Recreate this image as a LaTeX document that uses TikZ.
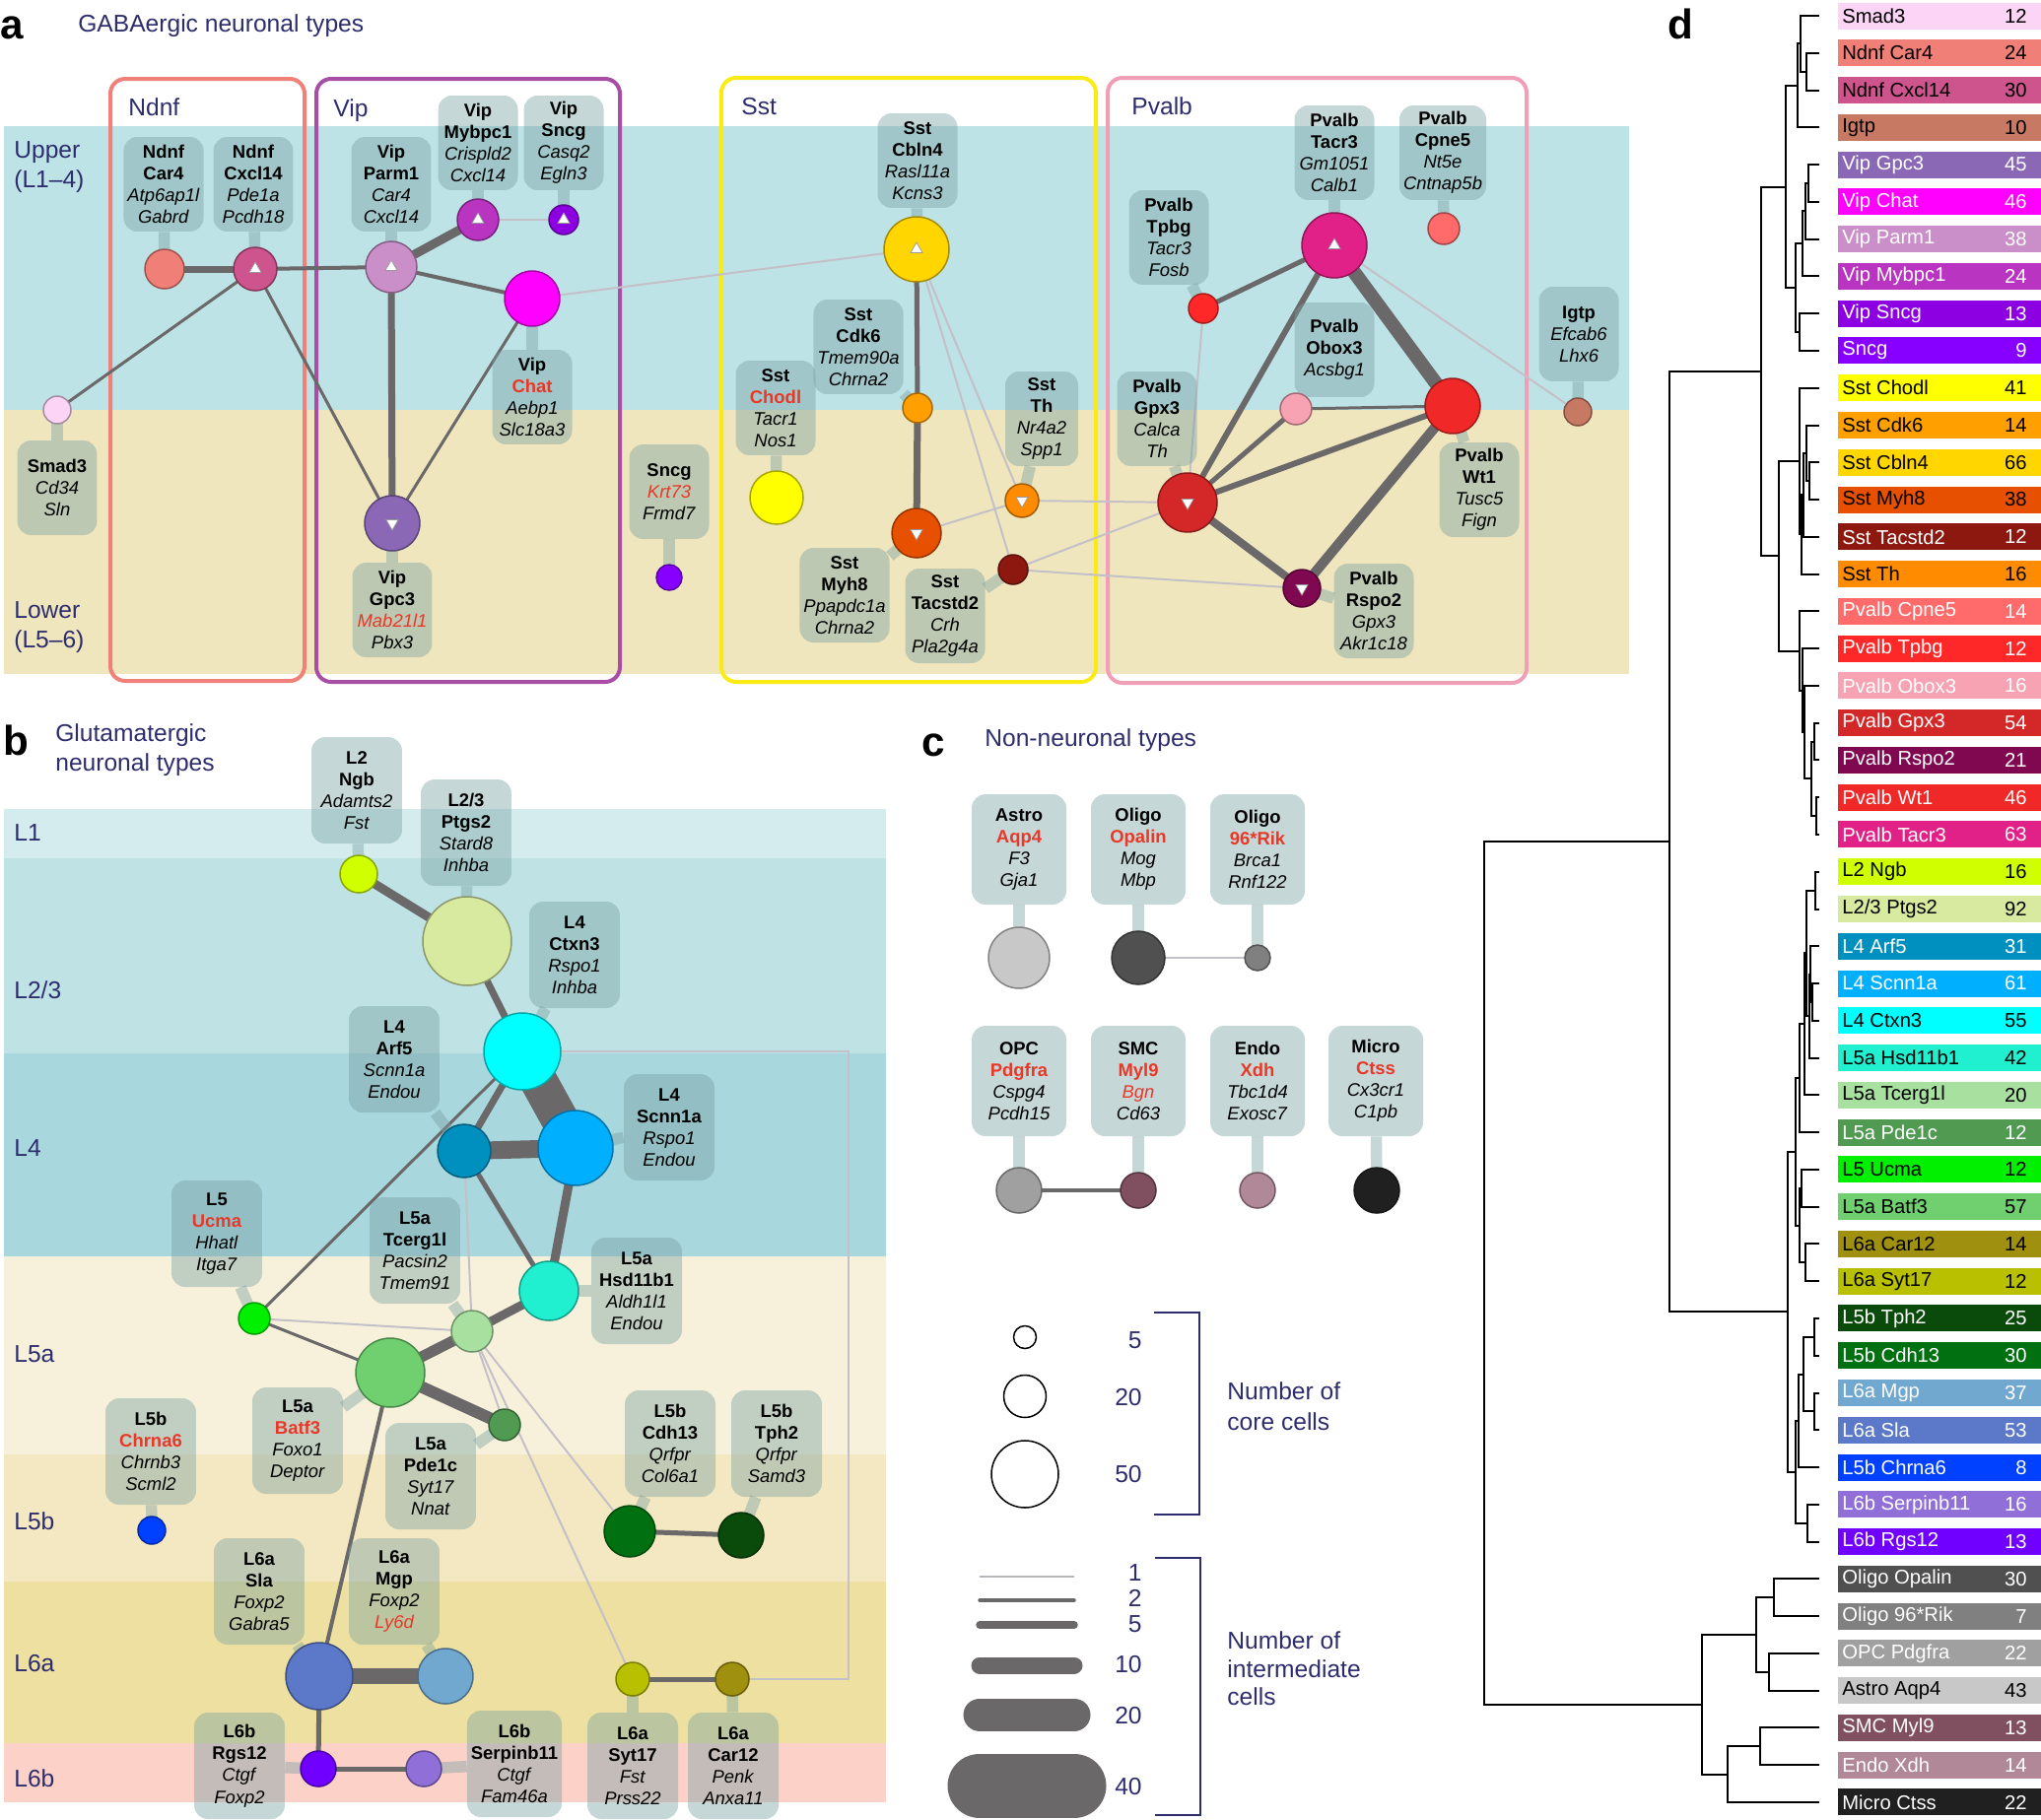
\documentclass[tikz,border=0pt]{standalone}
\usepackage{fontspec}
\setmainfont{Liberation Sans}
\usetikzlibrary{shapes.geometric}
\pgfdeclarelayer{bg}
\pgfdeclarelayer{edges}
\pgfdeclarelayer{stems}
\pgfsetlayers{bg,edges,stems,main}

% cluster colours
\definecolor{Smad3}{RGB}{251,212,246}
\definecolor{NdnfCar4}{RGB}{240,127,120}
\definecolor{NdnfCxcl14}{RGB}{205,84,140}
\definecolor{Igtp}{RGB}{200,121,100}
\definecolor{VipGpc3}{RGB}{139,104,181}
\definecolor{VipChat}{RGB}{255,0,255}
\definecolor{VipParm1}{RGB}{202,143,200}
\definecolor{VipMybpc1}{RGB}{185,52,192}
\definecolor{VipSncg}{RGB}{140,0,225}
\definecolor{Sncg}{RGB}{135,0,255}
\definecolor{SstChodl}{RGB}{255,255,0}
\definecolor{SstCdk6}{RGB}{255,160,0}
\definecolor{SstCbln4}{RGB}{255,214,0}
\definecolor{SstMyh8}{RGB}{230,80,0}
\definecolor{SstTacstd2}{RGB}{140,24,16}
\definecolor{SstTh}{RGB}{255,140,0}
\definecolor{PvalbCpne5}{RGB}{255,106,106}
\definecolor{PvalbTpbg}{RGB}{255,40,40}
\definecolor{PvalbObox3}{RGB}{247,163,180}
\definecolor{PvalbGpx3}{RGB}{212,40,40}
\definecolor{PvalbRspo2}{RGB}{128,8,80}
\definecolor{PvalbWt1}{RGB}{240,40,40}
\definecolor{PvalbTacr3}{RGB}{225,32,136}
\definecolor{L2Ngb}{RGB}{208,255,0}
\definecolor{L23Ptgs2}{RGB}{216,234,160}
\definecolor{L4Arf5}{RGB}{0,144,192}
\definecolor{L4Scnn1a}{RGB}{0,176,255}
\definecolor{L4Ctxn3}{RGB}{0,255,255}
\definecolor{L5aHsd11b1}{RGB}{32,240,208}
\definecolor{L5aTcerg1l}{RGB}{168,224,160}
\definecolor{L5aPde1c}{RGB}{80,154,82}
\definecolor{L5Ucma}{RGB}{0,240,0}
\definecolor{L5aBatf3}{RGB}{112,208,112}
\definecolor{L6aCar12}{RGB}{160,144,16}
\definecolor{L6aSyt17}{RGB}{184,192,0}
\definecolor{L5bTph2}{RGB}{10,74,10}
\definecolor{L5bCdh13}{RGB}{0,112,16}
\definecolor{L6aMgp}{RGB}{112,168,208}
\definecolor{L6aSla}{RGB}{92,120,200}
\definecolor{L5bChrna6}{RGB}{0,64,255}
\definecolor{L6bSerpinb11}{RGB}{144,112,216}
\definecolor{L6bRgs12}{RGB}{112,0,255}
\definecolor{OligoOpalin}{RGB}{80,80,80}
\definecolor{Oligo96Rik}{RGB}{128,128,128}
\definecolor{OPCPdgfra}{RGB}{160,160,160}
\definecolor{AstroAqp4}{RGB}{200,200,200}
\definecolor{SMCMyl9}{RGB}{128,80,96}
\definecolor{EndoXdh}{RGB}{176,136,152}
\definecolor{MicroCtss}{RGB}{32,32,32}
% figure colours
\definecolor{navy}{RGB}{45,45,110}
\definecolor{hl}{RGB}{232,56,40}
\definecolor{boxc}{RGB}{120,160,162}
\definecolor{edgec}{RGB}{107,104,105}
\definecolor{edgelt}{RGB}{196,192,200}
\definecolor{bandUp}{RGB}{190,227,230}
\definecolor{bandLow}{RGB}{240,230,190}
\definecolor{bL1}{RGB}{212,236,238}
\definecolor{bL23}{RGB}{191,226,229}
\definecolor{bL4}{RGB}{168,215,221}
\definecolor{bL5a}{RGB}{247,241,220}
\definecolor{bL5b}{RGB}{243,232,193}
\definecolor{bL6a}{RGB}{237,224,160}
\definecolor{bL6b}{RGB}{252,209,200}
\definecolor{frNdnf}{RGB}{240,128,122}
\definecolor{frVip}{RGB}{168,78,165}
\definecolor{frSst}{RGB}{250,235,20}
\definecolor{frPvalb}{RGB}{240,160,182}

\newcommand{\lbl}[4]{\textbf{#1}\\\textbf{#2}\\\textit{#3}\\\textit{#4}}
\newcommand{\lblc}[3]{\textbf{#1}\\\textit{#2}\\\textit{#3}}

\tikzset{
    % sizes are given in pixels of the source figure
    rad/.style={minimum size=#1*0.04cm},
    lw/.style={line width=#1*0.02cm},
    cell/.style={circle, inner sep=0pt, line width=0.03cm, fill=#1, draw=#1!65!black},
    lab/.style={rounded corners=0.28cm, fill=boxc, fill opacity=0.42, text opacity=1, align=center, inner xsep=0.08cm, font=\fontsize{10.5}{12.6}\selectfont},
    laba/.style={lab, minimum width=1.62cm, minimum height=1.92cm},
    labb/.style={lab, minimum width=1.84cm, minimum height=2.16cm},
    labc/.style={lab, minimum width=1.92cm, minimum height=2.24cm},
    stem/.style={draw=boxc, draw opacity=0.42, line width=0.23cm},
    link/.style={draw=edgec},
    faint/.style={draw=edgelt, line width=0.04cm},
    tri up/.style={regular polygon, regular polygon sides=3, minimum size=0.28cm, inner sep=0pt, fill=white, draw=gray!80, line width=0.4pt},
    tri down/.style={tri up, shape border rotate=180},
    grp/.style={rounded corners=0.3cm, line width=0.08cm},
    head/.style={text=navy, font=\fontsize{14}{17}\selectfont, anchor=west, align=left},
    panel/.style={font=\fontsize{24}{24}\selectfont\bfseries, anchor=base west, inner sep=0pt},
    dendro/.style={line width=0.04cm},
    bar/.style={font=\fontsize{11.5}{13}\selectfont, inner sep=0pt}
}

\begin{document}
\begin{tikzpicture}[x=0.02cm, y=-0.02cm]
\useasboundingbox (0,0) rectangle (2071,1846);

% backgrounds and group frames
\begin{pgfonlayer}{bg}
\fill[bandUp] (4,128) rectangle (1653,416);
\fill[bandLow] (4,416) rectangle (1653,684);
\draw[grp, frNdnf] (112,80) rectangle (309,691);
\draw[grp, frVip] (321,80) rectangle (629,692);
\draw[grp, frSst] (732,79) rectangle (1112,692);
\draw[grp, frPvalb] (1124,79) rectangle (1549,693);
\fill[bL1] (4,821) rectangle (899,871);
\fill[bL23] (4,871) rectangle (899,1069);
\fill[bL4] (4,1069) rectangle (899,1275);
\fill[bL5a] (4,1275) rectangle (899,1476);
\fill[bL5b] (4,1476) rectangle (899,1605);
\fill[bL6a] (4,1605) rectangle (899,1769);
\fill[bL6b] (4,1769) rectangle (899,1829);
\end{pgfonlayer}

% panel letters and headings
\node[panel] (pA) at (0,39) {a};
\node[panel] (pB) at (3,766) {b};
\node[panel] (pC) at (935,767) {c};
\node[panel] (pD) at (1692,39) {d};
\node[head, anchor=base west, inner sep=0pt] (tA) at (79,32) {GABAergic neuronal types};
\node[head, inner sep=0pt] (tB) at (56,761) {Glutamatergic\\neuronal types};
\node[head, anchor=base west, inner sep=0pt] (tC) at (999,757) {Non-neuronal types};
\node[head, inner sep=0pt] (up) at (14,170) {Upper\\(L1–4)};
\node[head, inner sep=0pt] (low) at (14,637) {Lower\\(L5–6)};
\node[head, anchor=base west, inner sep=0pt] (gNdnf) at (130,117) {Ndnf};
\node[head, anchor=base west, inner sep=0pt] (gVip) at (338,118) {Vip};
\node[head, anchor=base west, inner sep=0pt] (gSst) at (752,116) {Sst};
\node[head, anchor=base west, inner sep=0pt] (gPv) at (1148,116) {Pvalb};
\node[head, inner sep=0pt] (yL1) at (14,845) {L1};
\node[head, inner sep=0pt] (yL23) at (14,1005) {L2/3};
\node[head, inner sep=0pt] (yL4) at (14,1165) {L4};
\node[head, inner sep=0pt] (yL5a) at (14,1374) {L5a};
\node[head, inner sep=0pt] (yL5b) at (14,1544) {L5b};
\node[head, inner sep=0pt] (yL6a) at (14,1688) {L6a};
\node[head, inner sep=0pt] (yL6b) at (14,1805) {L6b};

% a: label boxes
\node[laba] (smad3L) at (58,495) {\lblc{Smad3}{Cd34}{Sln}};
\node[laba] (ndnfAL) at (166,187) {\lbl{Ndnf}{Car4}{Atp6ap1l}{Gabrd}};
\node[laba] (ndnfBL) at (257,187) {\lbl{Ndnf}{Cxcl14}{Pde1a}{Pcdh18}};
\node[laba] (vipParmL) at (397,187) {\lbl{Vip}{Parm1}{Car4}{Cxcl14}};
\node[laba] (vipMybL) at (485,145) {\lbl{Vip}{Mybpc1}{Crispld2}{Cxcl14}};
\node[laba] (vipSncgL) at (572,145) {\lbl{Vip}{Sncg}{Casq2}{Egln3}};
\node[laba] (vipChatL) at (540,403) {\lbl{Vip}{\color{hl}Chat}{Aebp1}{Slc18a3}};
\node[laba] (vipGpcL) at (398,619) {\lbl{Vip}{Gpc3}{\color{hl}Mab21l1}{Pbx3}};
\node[laba] (sncgL) at (679,499) {\lblc{Sncg}{\color{hl}Krt73}{Frmd7}};
\node[laba] (sstChodlL) at (787,414) {\lbl{Sst}{\color{hl}Chodl}{Tacr1}{Nos1}};
\node[laba] (sstCblnL) at (931,163) {\lbl{Sst}{Cbln4}{Rasl11a}{Kcns3}};
\node[laba] (sstCdkL) at (871,352) {\lbl{Sst}{Cdk6}{Tmem90a}{Chrna2}};
\node[laba, minimum width=1.48cm] (sstThL) at (1057,425) {\lbl{Sst}{Th}{Nr4a2}{Spp1}};
\node[laba] (sstMyhL) at (857,604) {\lbl{Sst}{Myh8}{Ppapdc1a}{Chrna2}};
\node[laba] (sstTacL) at (959,625) {\lbl{Sst}{Tacstd2}{Crh}{Pla2g4a}};
\node[laba] (pvTacrL) at (1354,155) {\lbl{Pvalb}{Tacr3}{Gm1051}{Calb1}};
\node[laba] (pvCpneL) at (1464,155) {\lbl{Pvalb}{Cpne5}{Nt5e}{Cntnap5b}};
\node[laba] (pvTpbgL) at (1186,241) {\lbl{Pvalb}{Tpbg}{Tacr3}{Fosb}};
\node[laba] (pvOboxL) at (1354,355) {\textbf{Pvalb}\\\textbf{Obox3}\\\textit{Acsbg1}};
\node[laba] (pvGpxL) at (1174,425) {\lbl{Pvalb}{Gpx3}{Calca}{Th}};
\node[laba] (pvWtL) at (1501,497) {\lbl{Pvalb}{Wt1}{Tusc5}{Fign}};
\node[laba] (pvRspoL) at (1394,620) {\lbl{Pvalb}{Rspo2}{Gpx3}{Akr1c18}};
\node[laba] (igtpL) at (1602,339) {\lblc{Igtp}{Efcab6}{Lhx6}};

% a: clusters
\node[cell=Smad3, rad=14] (smad3) at (58,416) {};
\node[cell=NdnfCar4, rad=20] (ndnfA) at (167,273) {};
\node[cell=NdnfCxcl14, rad=22] (ndnfB) at (259,273) {};
\node[cell=VipParm1, rad=26] (vipParm) at (397,271) {};
\node[cell=VipMybpc1, rad=21] (vipMyb) at (485,223) {};
\node[cell=VipSncg, rad=15] (vipSncg) at (572,223) {};
\node[cell=VipChat, rad=28] (vipChat) at (540,303) {};
\node[cell=VipGpc3, rad=28] (vipGpc) at (398,531) {};
\node[cell=Sncg, rad=13] (sncg) at (679,586) {};
\node[cell=SstChodl, rad=27] (sstChodl) at (788,505) {};
\node[cell=SstCbln4, rad=33] (sstCbln) at (930,253) {};
\node[cell=SstCdk6, rad=15] (sstCdk) at (931,414) {};
\node[cell=SstTh, rad=17] (sstTh) at (1037,508) {};
\node[cell=SstMyh8, rad=25] (sstMyh) at (930,541) {};
\node[cell=SstTacstd2, rad=15] (sstTac) at (1028,578) {};
\node[cell=PvalbTacr3, rad=33] (pvTacr) at (1354,249) {};
\node[cell=PvalbCpne5, rad=16] (pvCpne) at (1465,232) {};
\node[cell=PvalbTpbg, rad=15] (pvTpbg) at (1221,313) {};
\node[cell=PvalbObox3, rad=16] (pvObox) at (1315,415) {};
\node[cell=PvalbWt1, rad=28] (pvWt) at (1474,412) {};
\node[cell=PvalbGpx3, rad=30] (pvGpx) at (1205,510) {};
\node[cell=PvalbRspo2, rad=19] (pvRspo) at (1321,597) {};
\node[cell=Igtp, rad=14] (igtp) at (1601,418) {};
\foreach \n in {ndnfB,vipParm,vipMyb,vipSncg,sstCbln,pvTacr}
    \node[tri up] (\n-t) at (\n) {};
\foreach \n in {vipGpc,sstTh,sstMyh,pvGpx,pvRspo}
    \node[tri down] (\n-t) at (\n) {};

% b: label boxes
\node[labb] (ngbL) at (362,802) {\lbl{L2}{Ngb}{Adamts2}{Fst}};
\node[labb] (ptgsL) at (473,845) {\lbl{L2/3}{Ptgs2}{Stard8}{Inhba}};
\node[labb] (ctxnL) at (583,969) {\lbl{L4}{Ctxn3}{Rspo1}{Inhba}};
\node[labb] (arfL) at (400,1075) {\lbl{L4}{Arf5}{Scnn1a}{Endou}};
\node[labb] (scnnL) at (679,1144) {\lbl{L4}{Scnn1a}{Rspo1}{Endou}};
\node[labb] (ucmaL) at (220,1252) {\lbl{L5}{\color{hl}Ucma}{Hhatl}{Itga7}};
\node[labb] (tcergL) at (421,1269) {\lbl{L5a}{Tcerg1l}{Pacsin2}{Tmem91}};
\node[labb] (hsdL) at (646,1310) {\lbl{L5a}{Hsd11b1}{Aldh1l1}{Endou}};
\node[labb] (chrnaL) at (153,1473) {\lbl{L5b}{\color{hl}Chrna6}{Chrnb3}{Scml2}};
\node[labb] (batfL) at (302,1462) {\lbl{L5a}{\color{hl}Batf3}{Foxo1}{Deptor}};
\node[labb] (pdeL) at (437,1498) {\lbl{L5a}{Pde1c}{Syt17}{Nnat}};
\node[labb] (cdhL) at (680,1465) {\lbl{L5b}{Cdh13}{Qrfpr}{Col6a1}};
\node[labb] (tphL) at (788,1465) {\lbl{L5b}{Tph2}{Qrfpr}{Samd3}};
\node[labb] (slaL) at (263,1615) {\lbl{L6a}{Sla}{Foxp2}{Gabra5}};
\node[labb] (mgpL) at (400,1615) {\lbl{L6a}{Mgp}{Foxp2}{\color{hl}Ly6d}};
\node[labb] (rgsL) at (243,1792) {\lbl{L6b}{Rgs12}{Ctgf}{Foxp2}};
\node[labb] (serpL) at (522,1790) {\lbl{L6b}{Serpinb11}{Ctgf}{Fam46a}};
\node[labb] (sytL) at (642,1792) {\lbl{L6a}{Syt17}{Fst}{Prss22}};
\node[labb] (carL) at (744,1792) {\lbl{L6a}{Car12}{Penk}{Anxa11}};

% b: clusters
\node[cell=L2Ngb, rad=19] (ngb) at (364,887) {};
\node[cell=L23Ptgs2, rad=45] (ptgs) at (474,955) {};
\node[cell=L4Ctxn3, rad=39] (ctxn) at (530,1067) {};
\node[cell=L4Arf5, rad=27] (arf) at (471,1168) {};
\node[cell=L4Scnn1a, rad=38] (scnn) at (584,1165) {};
\node[cell=L5aHsd11b1, rad=30] (hsd) at (557,1310) {};
\node[cell=L5aTcerg1l, rad=21] (tcerg) at (479,1351) {};
\node[cell=L5Ucma, rad=16] (ucma) at (258,1338) {};
\node[cell=L5aBatf3, rad=35] (batf) at (396,1393) {};
\node[cell=L5aPde1c, rad=16] (pde) at (512,1446) {};
\node[cell=L5bChrna6, rad=14] (chrna) at (154,1553) {};
\node[cell=L5bCdh13, rad=26] (cdh) at (639,1554) {};
\node[cell=L5bTph2, rad=23] (tph) at (752,1558) {};
\node[cell=L6aSla, rad=34] (sla) at (324,1701) {};
\node[cell=L6aMgp, rad=28] (mgp) at (452,1701) {};
\node[cell=L6aSyt17, rad=17] (syt) at (642,1704) {};
\node[cell=L6aCar12, rad=17] (car) at (743,1704) {};
\node[cell=L6bRgs12, rad=18] (rgs) at (323,1795) {};
\node[cell=L6bSerpinb11, rad=18] (serp) at (430,1795) {};
\coordinate (turn) at (861,1704);

% c: label boxes and clusters
\node[labc] (astroL) at (1034,862) {\lbl{Astro}{\color{hl}Aqp4}{F3}{Gja1}};
\node[labc] (opalL) at (1155,862) {\lbl{Oligo}{\color{hl}Opalin}{Mog}{Mbp}};
\node[labc] (rikL) at (1276,862) {\lbl{Oligo}{\color{hl}96*Rik}{Brca1}{Rnf122}};
\node[labc] (opcL) at (1034,1097) {\lbl{OPC}{\color{hl}Pdgfra}{Cspg4}{Pcdh15}};
\node[labc] (smcL) at (1155,1097) {\lbl{SMC}{\color{hl}Myl9}{\color{hl}Bgn}{Cd63}};
\node[labc] (endoL) at (1276,1097) {\lbl{Endo}{\color{hl}Xdh}{Tbc1d4}{Exosc7}};
\node[labc] (microL) at (1396,1097) {\lbl{Micro}{\color{hl}Ctss}{Cx3cr1}{C1pb}};
\node[cell=AstroAqp4, rad=31] (astro) at (1034,972) {};
\node[cell=OligoOpalin, rad=27] (opal) at (1155,972) {};
\node[cell=Oligo96Rik, rad=13] (rik) at (1276,972) {};
\node[cell=OPCPdgfra, rad=23] (opc) at (1034,1208) {};
\node[cell=SMCMyl9, rad=18] (smc) at (1155,1208) {};
\node[cell=EndoXdh, rad=18] (endo) at (1276,1208) {};
\node[cell=MicroCtss, rad=23] (micro) at (1397,1208) {};

% connections
\begin{pgfonlayer}{edges}
\draw[link, lw=7] (ndnfA.center) -- (ndnfB.center);
\draw[link, lw=4] (ndnfB.center) -- (vipParm.center);
\draw[link, lw=3] (smad3.center) -- (ndnfB.center);
\draw[link, lw=3] (ndnfB.center) -- (vipGpc.center);
\draw[link, lw=9] (vipParm.center) -- (vipMyb.center);
\draw[link, lw=4] (vipParm.center) -- (vipChat.center);
\draw[link, lw=7] (vipParm.center) -- (vipGpc.center);
\draw[link, lw=3] (vipChat.center) -- (vipGpc.center);
\draw[faint] (vipMyb.center) -- (vipSncg.center);
\draw[faint] (vipChat.center) -- (sstCbln.center);
\draw[link, lw=5] (sstCbln.center) -- (sstCdk.center);
\draw[link, lw=7] (sstCdk.center) -- (sstMyh.center);
\draw[faint] (sstCbln.center) -- (sstTh.center);
\draw[faint] (sstCbln.center) -- (sstTac.center);
\draw[faint] (sstMyh.center) -- (sstTh.center);
\draw[faint] (sstTh.center) -- (pvGpx.center);
\draw[faint] (sstTac.center) -- (pvGpx.center);
\draw[faint] (sstTac.center) -- (pvRspo.center);
\draw[link, lw=5] (pvTacr.center) -- (pvTpbg.center);
\draw[link, lw=14] (pvTacr.center) -- (pvWt.center);
\draw[link, lw=6] (pvTacr.center) -- (pvGpx.center);
\draw[faint] (pvTacr.center) -- (igtp.center);
\draw[faint] (pvTpbg.center) -- (pvGpx.center);
\draw[link, lw=3] (pvObox.center) -- (pvWt.center);
\draw[link, lw=5] (pvObox.center) -- (pvGpx.center);
\draw[link, lw=6] (pvWt.center) -- (pvGpx.center);
\draw[link, lw=10] (pvWt.center) -- (pvRspo.center);
\draw[link, lw=8] (pvGpx.center) -- (pvRspo.center);
% b
\draw[link, lw=9] (ngb.center) -- (ptgs.center);
\draw[link, lw=7] (ptgs.center) -- (ctxn.center);
\draw[link, lw=38] (ctxn.center) -- (scnn.center);
\draw[link, lw=18] (arf.center) -- (scnn.center);
\draw[link, lw=7] (arf.center) -- (ctxn.center);
\draw[link, lw=3] (ctxn.center) -- (ucma.center);
\draw[link, lw=5] (arf.center) -- (hsd.center);
\draw[link, lw=9] (scnn.center) -- (hsd.center);
\draw[faint] (arf.center) -- (tcerg.center);
\draw[link, lw=9] (hsd.center) -- (tcerg.center);
\draw[link, lw=11] (tcerg.center) -- (batf.center);
\draw[link, lw=12] (batf.center) -- (pde.center);
\draw[link, lw=3] (batf.center) -- (ucma.center);
\draw[faint] (ucma.center) -- (tcerg.center);
\draw[faint] (tcerg.center) -- (pde.center);
\draw[faint] (tcerg.center) -- (cdh.center);
\draw[faint] (tcerg.center) -- (syt.center);
\draw[link, lw=4] (batf.center) -- (sla.center);
\draw[link, lw=16] (sla.center) -- (mgp.center);
\draw[link, lw=5] (sla.center) -- (rgs.center);
\draw[link, lw=5] (rgs.center) -- (serp.center);
\draw[link, lw=5] (cdh.center) -- (tph.center);
\draw[link, lw=5] (syt.center) -- (car.center);
\draw[faint] (ctxn.center) -| (turn) -- (car.center);
% c
\draw[faint] (opal.center) -- (rik.center);
\draw[link, lw=4] (opc.center) -- (smc.center);
\end{pgfonlayer}

% stems from label boxes to clusters
\begin{pgfonlayer}{stems}
\foreach \n in {smad3,ndnfA,ndnfB,vipParm,vipMyb,vipSncg,vipChat,vipGpc,sncg,
    sstChodl,sstCbln,sstCdk,sstTh,sstMyh,sstTac,pvTacr,pvCpne,pvTpbg,pvObox,
    pvGpx,pvWt,pvRspo,igtp,ngb,ptgs,ctxn,arf,scnn,ucma,tcerg,hsd,chrna,batf,
    pde,cdh,tph,sla,mgp,rgs,serp,syt,car,astro,opal,rik,opc,smc,endo,micro}
    \draw[stem] (\n L) -- (\n.center);
\end{pgfonlayer}

% legend
\node[circle, draw, line width=0.03cm, rad=11.5] (s5) at (1040,1357) {};
\node[circle, draw, line width=0.03cm, rad=21.5] (s20) at (1040,1417) {};
\node[circle, draw, line width=0.03cm, rad=34] (s50) at (1040,1496) {};
\foreach \v/\y in {5/1368,20/1426,50/1504,1/1604,2/1630,5/1656,10/1697,20/1749,40/1821}
    \node[head, anchor=base east, inner sep=0pt] (n\y) at (1159,\y) {\v};
\draw[edgelt!85!gray, lw=2.5] (994,1600) -- (1090,1600);
\foreach \w/\y in {3.5/1624,7.5/1649,17/1690,33/1740,65/1812}
    \draw[link, lw=\w, line cap=round] (994,\y) -- (1090,\y);
\draw[navy, lw=2] (1171,1332) -- (1217,1332) -- (1217,1537) -- (1171,1537);
\draw[navy, lw=2] (1172,1581) -- (1218,1581) -- (1218,1842) -- (1172,1842);
\node[head, anchor=north west, inner sep=0pt, font=\fontsize{14}{17.6}\selectfont] (core) at (1245,1402) {Number of\\core cells};
\node[head, anchor=north west, inner sep=0pt, font=\fontsize{14}{16.4}\selectfont] (inter) at (1245,1655) {Number of\\intermediate\\cells};

% d: dendrogram
\foreach \xa/\ya/\xm/\yb/\xb in {
    1846/53.8/1833/91.5/1846, 1846/16/1827/72.7/1833, 1827/44.3/1824/129.3/1846,
    1846/167.1/1835/204.9/1846, 1835/186/1832/242.6/1846, 1832/214.3/1829/280.4/1846,
    1846/318.2/1826/355.9/1846, 1829/247.4/1822/337/1826, 1824/86.8/1812/292.2/1822,
    1846/469.2/1836/507/1846, 1846/431.5/1833/488.1/1836, 1833/459.8/1830/544.8/1846,
    1830/502.3/1828/582.6/1846, 1846/393.7/1826/542.4/1828,
    1846/733.6/1841/771.4/1846, 1846/809.2/1843/846.9/1846, 1841/752.5/1838/828/1843,
    1846/695.9/1831/790.3/1838, 1846/658.1/1829/743.1/1831, 1846/620.3/1826/700.6/1829,
    1826/468/1805/660.5/1826, 1812/189.5/1787/564.3/1805,
    1846/884.7/1842/922.5/1846, 1846/998/1839/1035.8/1846, 1846/960.3/1837/1016.9/1839,
    1837/988.6/1835.5/1073.6/1846, 1842/903.6/1833/1031.1/1835.5,
    1833/967.4/1831/1111.3/1846, 1831/1039.4/1826/1149.1/1846,
    1846/1186.9/1828/1224.6/1846, 1846/1262.4/1832/1300.2/1846,
    1828/1205.8/1826/1281.3/1832, 1826/1094.3/1822/1243.6/1826,
    1846/1338/1841/1375.7/1846, 1846/1413.5/1841/1451.3/1846,
    1841/1356.9/1830/1432.4/1841, 1830/1394.7/1825/1489/1846,
    1846/1526.8/1834/1564.6/1846, 1825/1441.9/1822/1545.7/1834,
    1822/1169/1814/1493.8/1822, 1787/376.9/1694/1331.4/1814,
    1846/1602.3/1800/1640.1/1846, 1846/1677.9/1795/1715.6/1846,
    1800/1621.2/1782/1696.8/1795, 1846/1753.4/1786/1791.2/1846,
    1786/1772.3/1753/1829/1846, 1782/1659/1727/1800.7/1753,
    1694/854.2/1506/1729.9/1727}
    \draw[dendro] (\xa,\ya) -- (\xm,\ya) -- (\xm,\yb) -- (\xb,\yb);

\foreach \c/\t/\k/\tc [count=\i from 0] in {
    Smad3/Smad3/12/black, NdnfCar4/Ndnf Car4/24/black, NdnfCxcl14/Ndnf Cxcl14/30/black,
    Igtp/Igtp/10/black, VipGpc3/Vip Gpc3/45/white, VipChat/Vip Chat/46/white,
    VipParm1/Vip Parm1/38/white, VipMybpc1/Vip Mybpc1/24/white, VipSncg/Vip Sncg/13/white,
    Sncg/Sncg/9/white, SstChodl/Sst Chodl/41/black, SstCdk6/Sst Cdk6/14/black,
    SstCbln4/Sst Cbln4/66/black, SstMyh8/Sst Myh8/38/black, SstTacstd2/Sst Tacstd2/12/white,
    SstTh/Sst Th/16/black, PvalbCpne5/Pvalb Cpne5/14/white, PvalbTpbg/Pvalb Tpbg/12/white,
    PvalbObox3/Pvalb Obox3/16/white, PvalbGpx3/Pvalb Gpx3/54/white,
    PvalbRspo2/Pvalb Rspo2/21/white, PvalbWt1/Pvalb Wt1/46/white,
    PvalbTacr3/Pvalb Tacr3/63/white, L2Ngb/L2 Ngb/16/black, L23Ptgs2/{L2/3 Ptgs2}/92/black,
    L4Arf5/L4 Arf5/31/white, L4Scnn1a/L4 Scnn1a/61/white, L4Ctxn3/L4 Ctxn3/55/black,
    L5aHsd11b1/L5a Hsd11b1/42/black, L5aTcerg1l/L5a Tcerg1l/20/black,
    L5aPde1c/L5a Pde1c/12/white, L5Ucma/L5 Ucma/12/black, L5aBatf3/L5a Batf3/57/black,
    L6aCar12/L6a Car12/14/black, L6aSyt17/L6a Syt17/12/black, L5bTph2/L5b Tph2/25/white,
    L5bCdh13/L5b Cdh13/30/white, L6aMgp/L6a Mgp/37/white, L6aSla/L6a Sla/53/white,
    L5bChrna6/L5b Chrna6/8/white, L6bSerpinb11/L6b Serpinb11/16/white,
    L6bRgs12/L6b Rgs12/13/white, OligoOpalin/Oligo Opalin/30/white,
    Oligo96Rik/Oligo 96*Rik/7/white, OPCPdgfra/OPC Pdgfra/22/white,
    AstroAqp4/Astro Aqp4/43/black, SMCMyl9/SMC Myl9/13/white, EndoXdh/Endo Xdh/14/white,
    MicroCtss/Micro Ctss/22/white} {
    \fill[fill=\c] (1865,{16+37.77*\i-13.5}) rectangle (2071,{16+37.77*\i+13.5});
    \node[bar, anchor=west, text=\tc] (row\i) at (1869,{16+37.77*\i}) {\t};
    \node[bar, anchor=east, text=\tc] (cnt\i) at (2057,{16+37.77*\i}) {\k};
}
\end{tikzpicture}
\end{document}
